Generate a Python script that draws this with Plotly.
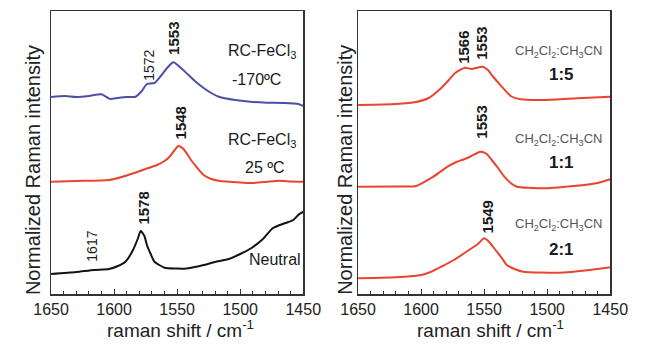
import plotly.graph_objects as go

# ---------------- data ----------------
# Left panel
wn_cold = [1650, 1639, 1630, 1620, 1610, 1606, 1603, 1597, 1590, 1583, 1578, 1574, 1568, 1563, 1558, 1553,
           1547, 1541, 1535, 1529, 1523, 1517, 1504, 1490, 1479, 1465, 1454, 1450]
int_cold = [197, 198, 197, 198, 199.7, 197, 195, 196, 197, 197.3, 203, 210, 211, 218, 226, 231.7,
            226, 219, 212, 206, 201, 197.3, 194, 192, 191.3, 191, 190, 188]

wn_rt = [1650, 1630, 1604, 1594, 1584, 1575, 1566, 1560, 1556, 1552, 1549, 1545, 1539, 1534, 1529,
         1523, 1517, 1500, 1491, 1480, 1469, 1460, 1450]
int_rt = [112.3, 113, 114, 117, 121, 125, 129, 133, 137.3, 144, 148, 145, 134, 126, 119,
          115, 113.3, 111.5, 111, 112, 113.3, 112.5, 112.3]

wn_neu = [1650, 1630, 1616, 1604, 1597, 1591, 1585, 1581, 1579, 1576, 1574, 1571, 1568, 1560, 1550,
          1544, 1536, 1529, 1520, 1509, 1500, 1491, 1482, 1474, 1464, 1458, 1454, 1450]
int_neu = [20, 22, 24, 25, 28, 32.3, 44, 56, 63, 58, 49, 40, 32.3, 26.3, 25.5,
           25.3, 27, 29, 32, 35, 40, 46, 55, 66, 71, 74, 79, 82.3]

# Right panel
wn_15 = [1650, 1620, 1604, 1594, 1584, 1578, 1573, 1565, 1560, 1555, 1551, 1547, 1544, 1536, 1529,
         1521, 1502, 1476, 1450]
int_15 = [189, 190, 192, 196, 206, 214, 221, 226.3, 225, 226.5, 227.3, 224, 219, 207.3, 198,
          194.7, 194, 195.7, 197.3]

wn_11 = [1650, 1620, 1604, 1592, 1585, 1579, 1572, 1566, 1560, 1553, 1548, 1544, 1539, 1534, 1528,
         1524, 1504, 1479, 1461, 1450]
int_11 = [107.3, 107.5, 108, 116, 122, 127.3, 132, 134.7, 138, 142.3, 140, 134, 126, 117.3, 110,
          107.3, 105.7, 108, 110.7, 114.7]

wn_21 = [1650, 1616, 1600, 1592, 1583, 1574, 1562, 1555, 1550, 1546, 1541, 1536, 1532, 1525, 1519,
         1491, 1466, 1450]
int_21 = [15.7, 17, 19, 22.3, 28, 34, 44, 50, 55.7, 52, 44, 36, 29, 24.5, 22.3,
          21.3, 24, 26.7]

peak_labels_left = [("1572", 1572.5, 229, False), ("1553", 1552.6, 256, True),
                    ("1548", 1546.6, 171, True), ("1617", 1617.8, 48, False),
                    ("1578", 1576.6, 86, True)]
peak_labels_right = [("1566", 1566.1, 247), ("1553", 1551.9, 251),
                     ("1553", 1552.0, 172), ("1549", 1546.6, 77)]

x_ticks = [1650, 1600, 1550, 1500, 1450]

# ---------------- figure ----------------
FONT = "Liberation Sans, Arial, sans-serif"
BLUE = "#4b4fa6"
RED = "#e8442f"
BLACK = "#141414"

def line(color):
    return dict(color=color, width=2, shape="spline", smoothing=0.6)

fig = go.Figure()
fig.add_trace(go.Scatter(x=wn_cold, y=int_cold, mode="lines", line=line(BLUE),
                         xaxis="x", yaxis="y", showlegend=False))
fig.add_trace(go.Scatter(x=wn_rt, y=int_rt, mode="lines", line=line(RED),
                         xaxis="x", yaxis="y", showlegend=False))
fig.add_trace(go.Scatter(x=wn_neu, y=int_neu, mode="lines", line=line(BLACK),
                         xaxis="x", yaxis="y", showlegend=False))
for wn, it in [(wn_15, int_15), (wn_11, int_11), (wn_21, int_21)]:
    fig.add_trace(go.Scatter(x=wn, y=it, mode="lines", line=line(RED),
                             xaxis="x2", yaxis="y2", showlegend=False))

ydom = [(344 - 294) / 344, (344 - 11) / 344]
xax = dict(range=[1650, 1450], tickvals=x_ticks, ticks="inside", ticklen=5, tickwidth=1.2,
           tickcolor="#333", showline=True, linecolor="#333", linewidth=1.5, mirror=True,
           showgrid=False, zeroline=False,
           tickfont=dict(family=FONT, size=16, color="#222"),
           minor=dict(dtick=10, ticks="inside", ticklen=3, tickcolor="#333", tickwidth=1),
           fixedrange=True)
yax = dict(range=[0, 283], showticklabels=False, ticks="", showline=True, linecolor="#333",
           linewidth=1.5, mirror=True, showgrid=False, zeroline=False, domain=ydom,
           fixedrange=True)

fig.update_layout(
    width=650, height=344, margin=dict(l=0, r=0, t=0, b=0),
    paper_bgcolor="white", plot_bgcolor="white", hovermode=False,
    xaxis=dict(xax, domain=[35 / 650, 302 / 650], anchor="y"),
    yaxis=dict(yax, anchor="x"),
    xaxis2=dict(xax, domain=[360 / 650, 627 / 650], anchor="y2"),
    yaxis2=dict(yax, anchor="x2"),
)

ann = []
def A(text, x, y, xref, yref, size, bold=False, angle=0, color="#1a1a1a"):
    if bold:
        text = "<b>" + text + "</b>"
    ann.append(dict(text=text, x=x, y=y, xref=xref, yref=yref, showarrow=False,
                    textangle=angle, font=dict(family=FONT, size=size, color=color),
                    xanchor="center", yanchor="middle"))

for t, x, y, b in peak_labels_left:
    A(t, x, y, "x", "y", 15 if b else 14, bold=b, angle=-90)
for t, x, y in peak_labels_right:
    A(t, x, y, "x2", "y2", 15, bold=True, angle=-90)

A("RC-FeCl<sub>3</sub>", 1483, 242, "x", "y", 16)
A("-170ºC", 1487, 214, "x", "y", 16)
A("RC-FeCl<sub>3</sub>", 1483, 153, "x", "y", 16)
A("25 ºC", 1480, 126, "x", "y", 16)
A("Neutral", 1472.5, 35, "x", "y", 16)

solv = "CH<sub>2</sub>Cl<sub>2</sub>:CH<sub>3</sub>CN"
for ys, yr, r in [(242, 219, "1:5"), (154, 131, "1:1"), (69, 44, "2:1")]:
    A(solv, 1491, ys, "x2", "y2", 13, color="#555555")
    A(r, 1489, yr, "x2", "y2", 17, bold=True)

# axis titles
for cx in [16 / 650, 346 / 650]:
    ann.append(dict(text="Normalized Raman intensity", x=cx, y=(344 - 170) / 344, xref="paper",
                    yref="paper", showarrow=False, textangle=-90,
                    font=dict(family=FONT, size=20, color="#222"),
                    xanchor="center", yanchor="middle"))
for cx in [172 / 650, 500 / 650]:
    ann.append(dict(text="raman shift / cm<sup>-1</sup>", x=cx, y=(344 - 329) / 344, xref="paper",
                    yref="paper", showarrow=False,
                    font=dict(family=FONT, size=19, color="#222"),
                    xanchor="center", yanchor="middle"))

fig.update_layout(annotations=ann)
fig.write_html("out.html", config={"displayModeBar": False, "staticPlot": True},
               post_script="document.body.style.margin='0px';document.body.style.overflow='hidden';")
